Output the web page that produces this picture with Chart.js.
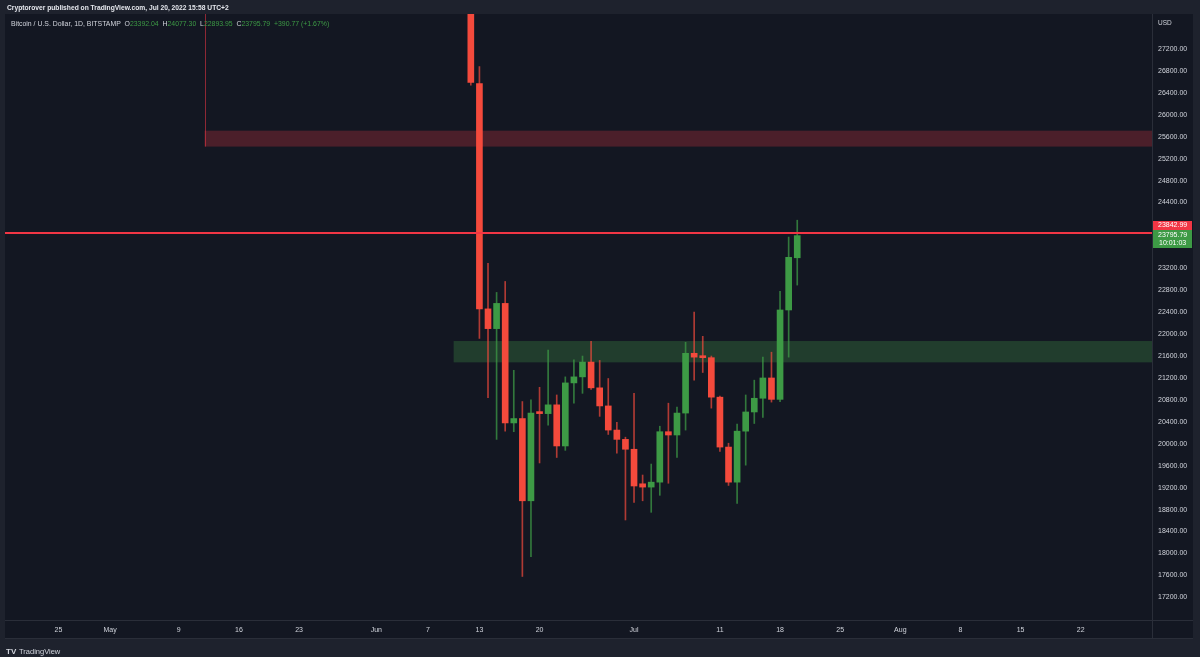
<!DOCTYPE html>
<html>
<head>
<meta charset="utf-8">
<title>BTCUSD 1D</title>
<script src="https://cdn.jsdelivr.net/npm/chart.js@4.4.1/dist/chart.umd.min.js"></script>
<style>
  html, body { margin: 0; padding: 0; background: #1e222d; }
  canvas { display: block; }
</style>
</head>
<body>
<canvas id="btcChart" width="1200" height="657"></canvas>
<script>
// Daily candles, Bitstamp BTC/USD
const dates = [
  '2022-06-12', '2022-06-13', '2022-06-14', '2022-06-15', '2022-06-16', '2022-06-17', '2022-06-18',
  '2022-06-19', '2022-06-20', '2022-06-21', '2022-06-22', '2022-06-23', '2022-06-24', '2022-06-25',
  '2022-06-26', '2022-06-27', '2022-06-28', '2022-06-29', '2022-06-30', '2022-07-01', '2022-07-02',
  '2022-07-03', '2022-07-04', '2022-07-05', '2022-07-06', '2022-07-07', '2022-07-08', '2022-07-09',
  '2022-07-10', '2022-07-11', '2022-07-12', '2022-07-13', '2022-07-14', '2022-07-15', '2022-07-16',
  '2022-07-17', '2022-07-18', '2022-07-19', '2022-07-20'
];
const openPrices = [
  28400, 26570, 22460, 22100, 22560, 20380, 20460, 18960, 20570, 20550, 20710, 19960, 21110, 21220,
  21490, 21020, 20690, 20250, 20080, 19900, 19270, 19210, 19300, 20220, 20160, 20560, 21650, 21590,
  21570, 20850, 19940, 19300, 20230, 20580, 20830, 21200, 20810, 22440, 23392.04
];
const highPrices = [
  28540, 26880, 23290, 22760, 22960, 21340, 20770, 20800, 21030, 21710, 20890, 21220, 21530, 21600,
  21870, 21520, 21190, 20390, 20120, 20920, 19430, 19630, 20320, 20740, 20670, 21850, 22400, 21960,
  21600, 20870, 20010, 20360, 20890, 21160, 21580, 21670, 22780, 23770, 24077.30
];
const lowPrices = [
  26540, 21920, 20840, 20080, 20230, 20220, 17580, 17940, 19650, 20340, 19750, 19880, 20740, 20920,
  20990, 20500, 20170, 19830, 18610, 18930, 18960, 18750, 19060, 19280, 19750, 20250, 21160, 21300,
  20650, 19860, 19240, 18910, 19610, 20370, 20480, 20760, 20770, 21580, 22893.95
];
const closePrices = [
  26590, 22460, 22100, 22560, 20380, 20460, 18960, 20560, 20550, 20710, 19960, 21110, 21220, 21490,
  21020, 20690, 20250, 20080, 19900, 19230, 19210, 19300, 20220, 20160, 20560, 21650, 21580, 21570,
  20850, 19940, 19300, 20230, 20580, 20830, 21200, 20810, 22440, 23400, 23795.79
];

// time axis labels
const tickDates = [
  '2022-04-25', '2022-05-01', '2022-05-09', '2022-05-16', '2022-05-23', '2022-06-01', '2022-06-07',
  '2022-06-13', '2022-06-20', '2022-07-01', '2022-07-11', '2022-07-18', '2022-07-25', '2022-08-01',
  '2022-08-08', '2022-08-15', '2022-08-22'
];
const tickLabels = ['25', 'May', '9', '16', '23', 'Jun', '7', '13', '20', 'Jul', '11', '18', '25', 'Aug', '8', '15', '22'];

// drawn levels
const resistanceZone = [25420, 25710];
const resistanceStart = '2022-05-12';
const supportZone = [21485, 21874];
const supportStart = '2022-06-10';
const levelLine = 23842.99;
const lastPrice = 23795.79;
const countdown = '10:01:03';

// visible window
const firstDay = '2022-04-25';
const viewDays = [-6.23, 127.3];
const viewPrices = [16786, 27838];

const UP = '#3d9a45';
const DOWN = '#f44a3c';
const TEXT = '#d1d4dc';
const FONT = "'Liberation Sans', Arial, sans-serif";

function dayIndex(d) {
  return Math.round((Date.parse(d) - Date.parse(firstDay)) / 86400000);
}

const priceTicks = [];
for (let p = 17200; p <= 27200; p += 400) priceTicks.push(p);

const isUp = closePrices.map((c, i) => c >= openPrices[i]);

// 1. Badan candle dan sumbu (wick) sebagai floating bar
const bodyData = dates.map((d, i) => ({ x: dayIndex(d), y: [openPrices[i], closePrices[i]] }));
const wickData = dates.map((d, i) => ({ x: dayIndex(d), y: [lowPrices[i], highPrices[i]] }));

// 2. Background, zona, garis level dan label
const tvPanels = {
  id: 'tvPanels',
  beforeDraw(chart) {
    const { ctx, chartArea: a } = chart;
    const ys = chart.scales.y, xs = chart.scales.x;
    ctx.save();
    ctx.fillStyle = '#1e222d';
    ctx.fillRect(0, 0, chart.width, chart.height);
    ctx.fillStyle = '#131722';
    ctx.fillRect(a.left, a.top, ys.right - a.left, xs.bottom - a.top);
    ctx.strokeStyle = '#2a2e39';
    ctx.lineWidth = 1;
    ctx.beginPath();
    ctx.moveTo(a.right + 0.5, a.top); ctx.lineTo(a.right + 0.5, xs.bottom);
    ctx.moveTo(a.left, a.bottom + 0.5); ctx.lineTo(ys.right, a.bottom + 0.5);
    ctx.moveTo(a.left, xs.bottom + 0.5); ctx.lineTo(ys.right, xs.bottom + 0.5);
    ctx.stroke();
    ctx.restore();
  },
  beforeDatasetsDraw(chart) {
    const { ctx, chartArea: a } = chart;
    const x = chart.scales.x, y = chart.scales.y;
    ctx.save();
    ctx.beginPath();
    ctx.rect(a.left, a.top, a.right - a.left, a.bottom - a.top);
    ctx.clip();
    // zona merah (resistance)
    const rx = x.getPixelForValue(dayIndex(resistanceStart));
    ctx.fillStyle = 'rgba(242, 54, 69, 0.25)';
    ctx.fillRect(rx, y.getPixelForValue(resistanceZone[1]), a.right - rx,
      y.getPixelForValue(resistanceZone[0]) - y.getPixelForValue(resistanceZone[1]));
    ctx.strokeStyle = 'rgba(242, 54, 69, 0.55)';
    ctx.lineWidth = 1;
    ctx.beginPath();
    ctx.moveTo(Math.round(rx) + 0.5, a.top);
    ctx.lineTo(Math.round(rx) + 0.5, y.getPixelForValue(resistanceZone[0]));
    ctx.stroke();
    // zona hijau (support)
    const sx = x.getPixelForValue(dayIndex(supportStart));
    ctx.fillStyle = 'rgba(76, 175, 80, 0.25)';
    ctx.fillRect(sx, y.getPixelForValue(supportZone[1]), a.right - sx,
      y.getPixelForValue(supportZone[0]) - y.getPixelForValue(supportZone[1]));
    ctx.restore();
  },
  afterDatasetsDraw(chart) {
    const { ctx, chartArea: a } = chart;
    const y = chart.scales.y;
    const ly = y.getPixelForValue(levelLine);
    ctx.save();
    ctx.strokeStyle = '#f23645';
    ctx.lineWidth = 2;
    ctx.beginPath();
    ctx.moveTo(a.left, ly); ctx.lineTo(a.right, ly);
    ctx.stroke();
    ctx.restore();
  },
  afterDraw(chart) {
    const { ctx, chartArea: a } = chart;
    const ys = chart.scales.y;
    const ly = Math.round(ys.getPixelForValue(levelLine));
    ctx.save();
    ctx.textBaseline = 'middle';

    // label harga di sumbu kanan
    ctx.fillStyle = '#f23645';
    ctx.fillRect(a.right + 1, ly - 12, 39, 9);
    ctx.fillStyle = UP;
    ctx.fillRect(a.right + 1, ly - 3, 39, 18);
    ctx.fillStyle = '#ffffff';
    ctx.font = '7px ' + FONT;
    ctx.fillText(levelLine.toFixed(2), a.right + 6, ly - 7.5);
    ctx.fillText(lastPrice.toFixed(2), a.right + 6, ly + 2);
    ctx.fillText(countdown, a.right + 7, ly + 10);

    ctx.fillStyle = TEXT;
    ctx.font = '6.5px ' + FONT;
    ctx.fillText('USD', a.right + 6, 23);

    // judul atas
    ctx.font = '600 6.7px ' + FONT;
    ctx.fillStyle = '#e6e8ee';
    ctx.fillText('Cryptorover published on TradingView.com, Jul 20, 2022 15:58 UTC+2', 7, 8.5);

    // baris OHLC
    const last = dates.length - 1;
    const parts = [
      ['Bitcoin / U.S. Dollar, 1D, BITSTAMP  ', TEXT],
      ['O', TEXT], [openPrices[last].toFixed(2) + '  ', UP],
      ['H', TEXT], [highPrices[last].toFixed(2) + '  ', UP],
      ['L', TEXT], [lowPrices[last].toFixed(2) + '  ', UP],
      ['C', TEXT], [closePrices[last].toFixed(2) + '  ', UP],
      ['+390.77 (+1.67%)', UP]
    ];
    ctx.font = '6.9px ' + FONT;
    let tx = 11;
    parts.forEach(([t, c]) => {
      ctx.fillStyle = c;
      ctx.fillText(t, tx, 24.5);
      tx += ctx.measureText(t).width;
    });

    // logo TradingView di bawah
    ctx.fillStyle = TEXT;
    ctx.font = 'bold 8px ' + FONT;
    ctx.fillText('TV', 6, 652);
    ctx.font = '7.5px ' + FONT;
    ctx.fillText('TradingView', 19, 652);
    ctx.restore();
  }
};

// 3. Gambar grafik
const ctx = document.getElementById('btcChart').getContext('2d');
new Chart(ctx, {
  type: 'bar',
  data: {
    datasets: [
      {
        label: 'body',
        data: bodyData,
        backgroundColor: isUp.map(u => (u ? UP : DOWN)),
        barThickness: 6,
        minBarLength: 2,
        grouped: false,
        borderWidth: 0
      },
      {
        label: 'wick',
        data: wickData,
        backgroundColor: isUp.map(u => (u ? 'rgba(61,154,69,0.75)' : 'rgba(244,74,60,0.7)')),
        barThickness: 1,
        grouped: false,
        borderWidth: 0
      }
    ]
  },
  options: {
    responsive: false,
    animation: false,
    devicePixelRatio: 1,
    layout: { padding: { left: 5, top: 14, right: 7, bottom: 19 } },
    plugins: {
      legend: { display: false },
      tooltip: { enabled: false }
    },
    scales: {
      x: {
        type: 'linear',
        min: viewDays[0],
        max: viewDays[1],
        offset: false,
        grid: { display: false, drawTicks: false, offset: false },
        border: { display: false },
        afterBuildTicks: scale => { scale.ticks = tickDates.map(d => ({ value: dayIndex(d) })); },
        afterFit: scale => { scale.height = 18; },
        ticks: {
          autoSkip: false,
          maxRotation: 0,
          padding: 6,
          color: TEXT,
          font: { family: FONT, size: 7 },
          callback: (v, i) => tickLabels[i]
        }
      },
      y: {
        type: 'linear',
        position: 'right',
        min: viewPrices[0],
        max: viewPrices[1],
        beginAtZero: false,
        grid: { display: false, drawTicks: false },
        border: { display: false },
        afterBuildTicks: scale => { scale.ticks = priceTicks.map(v => ({ value: v })); },
        afterFit: scale => { scale.width = 41; },
        ticks: {
          autoSkip: false,
          padding: 6,
          color: TEXT,
          font: { family: FONT, size: 7 },
          callback: v => v.toFixed(2)
        }
      }
    }
  },
  plugins: [tvPanels]
});
</script>
</body>
</html>
